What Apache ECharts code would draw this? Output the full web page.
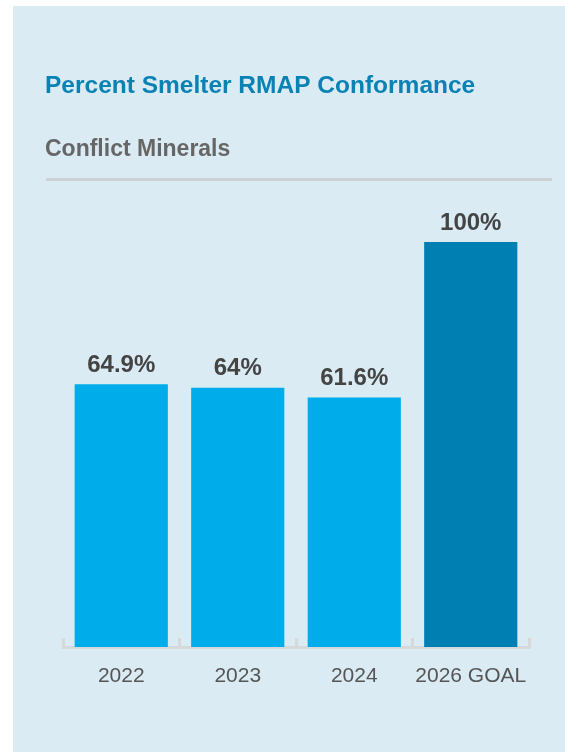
<!DOCTYPE html>
<html>
<head>
<meta charset="utf-8">
<script src="https://cdn.jsdelivr.net/npm/echarts@6/dist/echarts.min.js"></script>
<style>
  html, body { margin: 0; padding: 0; background: #ffffff; }
  #main { position: absolute; left: 13px; top: 6px; width: 552px; height: 746px; }
</style>
</head>
<body>
<div id="main"></div>
<script>
const categories = ['2022', '2023', '2024', '2026 GOAL']
const conformance = [64.9, 64, 61.6, 100]
const barColors = ['#00ADEA', '#00ADEA', '#00ADEA', '#0080B2']

const chart = echarts.init(document.getElementById('main'))

chart.setOption({
  backgroundColor: '#DAEBF3',
  animation: false,
  graphic: [
    {
      type: 'text',
      left: 32,
      top: 68,
      style: {
        text: 'Percent Smelter RMAP Conformance',
        fill: '#0A82B4',
        font: 'bold 24.5px "Liberation Sans", Arial, sans-serif'
      }
    },
    {
      type: 'text',
      left: 32,
      top: 132,
      style: {
        text: 'Conflict Minerals',
        fill: '#666666',
        font: 'bold 23px "Liberation Sans", Arial, sans-serif'
      }
    },
    {
      type: 'rect',
      shape: { x: 33, y: 172, width: 506, height: 3 },
      style: { fill: '#CDD2D5' }
    }
  ],
  grid: {
    left: 50,
    right: 36,
    top: 236,
    bottom: 105
  },
  xAxis: {
    type: 'category',
    data: categories,
    axisLine: {
      lineStyle: { color: '#D6D8D9', width: 3 }
    },
    axisTick: {
      show: true,
      inside: true,
      length: 9,
      lineStyle: { color: '#D6D8D9', width: 3 }
    },
    axisLabel: {
      interval: 0,
      margin: 19,
      color: '#555555',
      fontSize: 21,
      fontFamily: '"Liberation Sans", Arial, sans-serif'
    }
  },
  yAxis: {
    type: 'value',
    min: 0,
    max: 100,
    show: false
  },
  series: [{
    type: 'bar',
    barCategoryGap: '20%',
    data: conformance.map((v, i) => ({
      value: v,
      itemStyle: { color: barColors[i] }
    })),
    label: {
      show: true,
      position: 'top',
      distance: 7,
      formatter: p => p.value + '%',
      color: '#444444',
      fontSize: 24,
      fontWeight: 'bold',
      fontFamily: '"Liberation Sans", Arial, sans-serif'
    }
  }]
})
</script>
</body>
</html>
